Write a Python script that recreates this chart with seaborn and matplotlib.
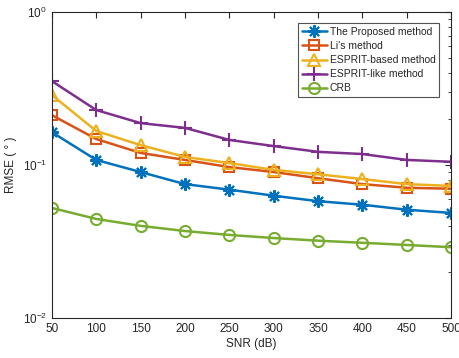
import matplotlib
matplotlib.use("Agg")
import matplotlib.pyplot as plt
import seaborn as sns
import pandas as pd
import numpy as np
from matplotlib.ticker import LogLocator, NullFormatter

snr = [50, 100, 150, 200, 250, 300, 350, 400, 450, 500]
proposed = [0.164, 0.108, 0.090, 0.075, 0.069, 0.063, 0.058, 0.055, 0.051, 0.0486]
li = [0.212, 0.148, 0.120, 0.108, 0.097, 0.090, 0.082, 0.075, 0.071, 0.070]
esprit_based = [0.287, 0.167, 0.135, 0.113, 0.103, 0.093, 0.087, 0.081, 0.075, 0.073]
esprit_like = [0.354, 0.229, 0.188, 0.175, 0.146, 0.133, 0.122, 0.118, 0.108, 0.105]
crb = [0.0524, 0.0444, 0.040, 0.037, 0.0349, 0.0333, 0.032, 0.031, 0.030, 0.029]

names = ["The Proposed method", "Li's method", "ESPRIT-based method", "ESPRIT-like method", "CRB"]
series = [proposed, li, esprit_based, esprit_like, crb]
colors = ["#0072BD", "#D95319", "#EDB120", "#7E2F8E", "#77AC30"]
markers = [(8, 2, 0), "s", "^", "+", "o"]
msizes = [9, 7, 9, 10, 8]

sns.set_style("white")
plt.rcParams['font.family'] = ['Liberation Sans', 'DejaVu Sans']

df = pd.concat([pd.DataFrame({"SNR": snr, "RMSE": s, "method": n}) for n, s in zip(names, series)])

fig = plt.figure(figsize=(4.59, 3.58), dpi=100)
ax = fig.add_axes([0.113, 0.112, 0.870, 0.854])

for n, c, m, ms in zip(names, colors, markers, msizes):
    d = df[df["method"] == n]
    filled = m in ("s", "^", "o")
    sns.lineplot(data=d, x="SNR", y="RMSE", ax=ax, color=c, marker=m, markersize=ms,
                 markerfacecolor="none" if filled else c,
                 markeredgecolor=c, markeredgewidth=1.5, linewidth=1.8, label=n)

ax.set_yscale("log")
ax.set_xlim(50, 500)
ax.set_ylim(1e-2, 1)
ax.set_xticks(snr)
ax.set_xticklabels([str(v) for v in snr])
ax.yaxis.set_minor_locator(LogLocator(base=10, subs=np.arange(2, 10)))
ax.yaxis.set_minor_formatter(NullFormatter())
ax.tick_params(direction="in", which="both", top=True, right=True, labelsize=8.5, colors="#262626")
ax.tick_params(which="major", length=4)
ax.tick_params(which="minor", length=2)
for sp in ax.spines.values():
    sp.set_color("#262626")
    sp.set_linewidth(0.8)
ax.set_xlabel("SNR (dB)", fontsize=8.5, color="#262626", labelpad=2)
ax.set_ylabel("RMSE ( ° )", fontsize=8.5, color="#262626")

leg = ax.legend(loc="upper right", bbox_to_anchor=(0.97, 0.964), fontsize=7.5, frameon=True,
                fancybox=False, edgecolor="#262626", borderpad=0.35, labelspacing=0.4,
                handlelength=2.4, handletextpad=0.3, borderaxespad=0)
leg.get_frame().set_linewidth(0.8)

fig.savefig("out.png", dpi=100)
